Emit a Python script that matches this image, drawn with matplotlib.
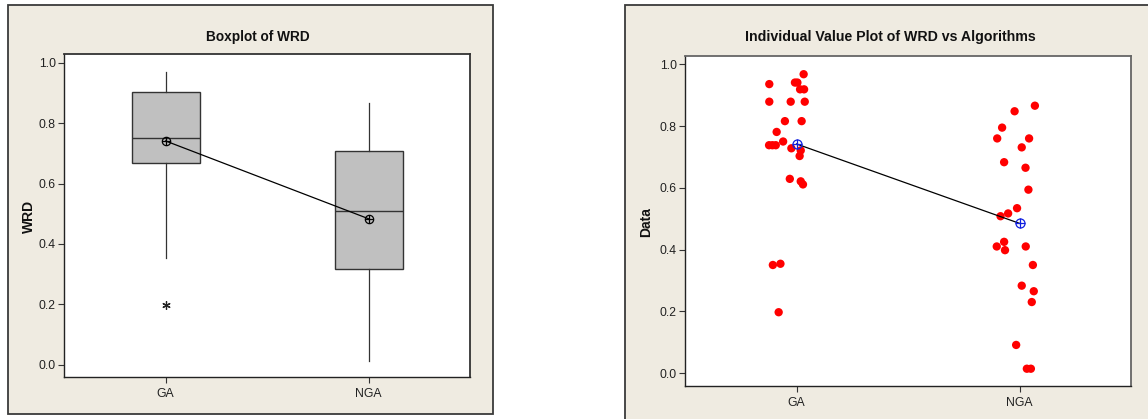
import numpy as np
import matplotlib
matplotlib.use("Agg")
import matplotlib.pyplot as plt
from matplotlib.patches import Rectangle

# ---------------- data ----------------
categories = ["GA", "NGA"]

ga_values = [0.968, 0.936, 0.941, 0.941, 0.919, 0.919, 0.879, 0.879, 0.879,
             0.816, 0.816, 0.781, 0.750, 0.738, 0.738, 0.738, 0.728, 0.721,
             0.703, 0.629, 0.621, 0.611, 0.350, 0.354, 0.197]
ga_jitter = [0.032, -0.122, -0.007, 0.004, 0.016, 0.034, -0.122, -0.026, 0.037,
             -0.052, 0.023, -0.089, -0.060, -0.123, -0.108, -0.093, -0.023, 0.019,
             0.014, -0.030, 0.019, 0.029, -0.106, -0.072, -0.080]

nga_values = [0.866, 0.848, 0.795, 0.760, 0.760, 0.731, 0.683, 0.665, 0.594,
              0.534, 0.517, 0.508, 0.410, 0.425, 0.398, 0.410, 0.350, 0.283,
              0.265, 0.230, 0.091, 0.014, 0.014]
nga_jitter = [0.069, -0.022, -0.078, -0.100, 0.043, 0.010, -0.069, 0.027, 0.040,
              -0.011, -0.051, -0.085, -0.102, -0.069, -0.065, 0.028, 0.060, 0.010,
              0.064, 0.055, -0.015, 0.033, 0.051]

# boxplot summary
box_q1 = [0.669, 0.316]
box_med = [0.752, 0.510]
box_q3 = [0.903, 0.708]
box_whislo = [0.352, 0.013]
box_whishi = [0.970, 0.867]
box_mean = [0.741, 0.483]
box_fliers = [[0.198], []]

yticks = [0.0, 0.2, 0.4, 0.6, 0.8, 1.0]

# ---------------- figure ----------------
W, H = 1148, 419
fig = plt.figure(figsize=(W / 100, H / 100), dpi=100)
fig.patch.set_facecolor("white")

FONT = ["Liberation Sans", "DejaVu Sans"]
TICKFONT = ["Liberation Sans", "DejaVu Sans"]
BEIGE = "#EFEBE1"
FRAME_EDGE = "#3a3a3a"


def px_rect(x0, y0, x1, y1):
    return (x0 / W, 1 - y1 / H, (x1 - x0) / W, (y1 - y0) / H)


# background frames
for (x0, y0, x1, y1) in [(8, 5, 493, 414), (625, 5, 1160, 430)]:
    l, b, w, h = px_rect(x0, y0, x1, y1)
    fig.patches.append(Rectangle((l, b), w, h, transform=fig.transFigure,
                                 facecolor=BEIGE, edgecolor=FRAME_EDGE,
                                 linewidth=1.3, zorder=0))

ax1 = fig.add_axes(px_rect(64, 54, 470.3, 377.3))
ax2 = fig.add_axes(px_rect(685, 56, 1131, 386))
ax1.set_zorder(2)
ax2.set_zorder(2)

positions = np.arange(1, len(categories) + 1)


def style_axes(ax, ylo, yhi, edge_tr):
    ax.set_facecolor("white")
    ax.set_xlim(0.5, 2.5)
    ax.set_ylim(ylo, yhi)
    ax.set_xticks(positions)
    ax.set_xticklabels(categories)
    ax.set_yticks(yticks)
    ax.set_yticklabels([f"{t:.1f}" for t in yticks])
    ax.tick_params(direction="out", length=4, width=0.8, color="#333333",
                   labelsize=8.8, labelcolor="#222222", pad=2)
    for lab in ax.get_xticklabels() + ax.get_yticklabels():
        lab.set_fontfamily(TICKFONT)
    ax.tick_params(axis="x", pad=4)
    for side in ["left", "bottom"]:
        ax.spines[side].set_color("#222222")
        ax.spines[side].set_linewidth(1.0)
    for side in ["top", "right"]:
        ax.spines[side].set_color(edge_tr)
        ax.spines[side].set_linewidth(1.3)


# ---------------- left: boxplot ----------------
stats = []
for i in range(len(categories)):
    stats.append(dict(q1=box_q1[i], med=box_med[i], q3=box_q3[i],
                      whislo=box_whislo[i], whishi=box_whishi[i],
                      mean=box_mean[i], fliers=box_fliers[i], label=categories[i]))

ax1.bxp(stats, positions=positions, widths=0.335, patch_artist=True,
        showcaps=False, showmeans=False,
        boxprops=dict(facecolor="#C0C0C0", edgecolor="#333333", linewidth=1.0),
        medianprops=dict(color="#333333", linewidth=1.0),
        whiskerprops=dict(color="#333333", linewidth=0.9),
        flierprops=dict(marker=(6, 2, 0), markersize=6, markeredgecolor="#222222",
                        markeredgewidth=0.9, linestyle="none"))
ax1.plot(positions, box_mean, color="black", linewidth=0.9, zorder=4)
ax1.plot(positions, box_mean, linestyle="none", marker="o", markersize=6,
         markerfacecolor="none", markeredgecolor="black", markeredgewidth=0.9, zorder=5)
ax1.plot(positions, box_mean, linestyle="none", marker="+", markersize=6,
         markeredgecolor="black", markeredgewidth=0.9, zorder=5)
style_axes(ax1, -0.042, 1.029, "#333333")

# ---------------- right: individual value plot ----------------
groups = [(ga_values, ga_jitter), (nga_values, nga_jitter)]
for pos, (vals, jit) in zip(positions, groups):
    ax2.scatter(pos + np.array(jit), vals, s=36, color="#FF0000",
                edgecolors="none", zorder=3)
means = [np.mean(v) for v, _ in groups]
ax2.plot(positions, means, color="black", linewidth=0.9, zorder=4)
ax2.plot(positions, means, linestyle="none", marker="o", markersize=6.5,
         markerfacecolor="none", markeredgecolor="#1020E0", markeredgewidth=0.9, zorder=5)
ax2.plot(positions, means, linestyle="none", marker="+", markersize=6.5,
         markeredgecolor="#1020E0", markeredgewidth=0.9, zorder=5)
style_axes(ax2, -0.042, 1.027, "#666666")

# ---------------- texts ----------------
fig.text(258 / W, 1 - 37 / H, "Boxplot of WRD", ha="center", va="center",
         fontsize=9.8, fontweight="bold", family=FONT, color="#111111")
fig.text(890 / W, 1 - 37 / H, "Individual Value Plot of WRD vs Algorithms",
         ha="center", va="center", fontsize=10.2, fontweight="bold",
         family=FONT, color="#111111")
fig.text(29 / W, 1 - 216 / H, "WRD", ha="center", va="center", rotation=90,
         fontsize=10, fontweight="bold", family=FONT, color="#111111")
fig.text(646 / W, 1 - 222 / H, "Data", ha="center", va="center", rotation=90,
         fontsize=10, fontweight="bold", family=FONT, color="#111111")

fig.savefig("out.png", dpi=100, facecolor=fig.get_facecolor())
